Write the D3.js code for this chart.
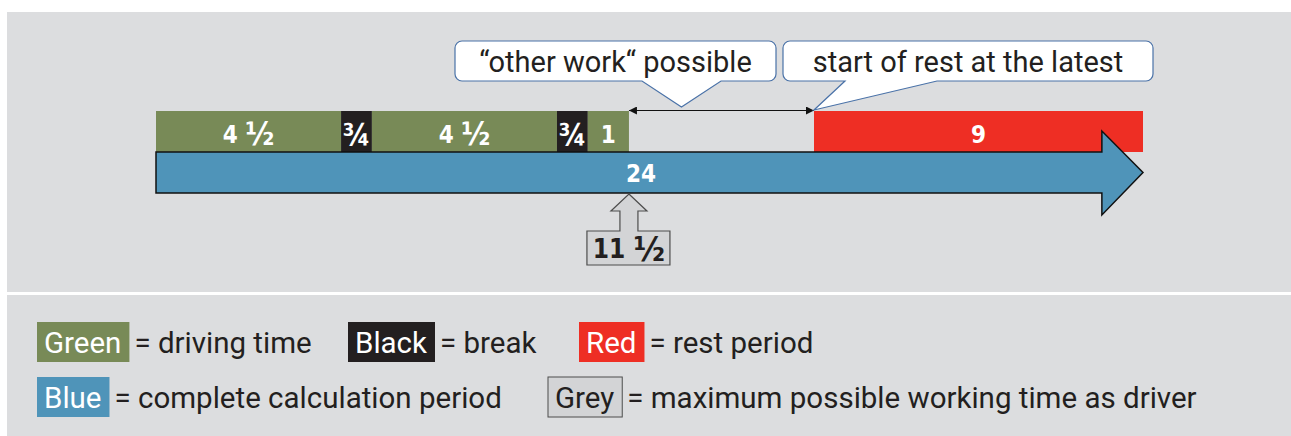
<!DOCTYPE html>
<html>
<head>
<meta charset="utf-8">
<script src="https://cdn.jsdelivr.net/npm/d3@7"></script>
<style>
  html, body { margin: 0; padding: 0; background: #ffffff; }
  svg { display: block; }
  text { font-family: Roboto, "DejaVu Sans", sans-serif; }
  text.num { font-family: "DejaVu Sans Condensed", "DejaVu Sans", sans-serif; font-weight: 700; }
</style>
</head>
<body>
<svg id="chart" width="1291" height="436"></svg>
<script>
// segments of the day, in hours (as drawn)
var segHours  = [4.5, 0.75, 4.5, 0.75, 1, 4.5, 8];
var segKinds  = ['drive', 'break', 'drive', 'break', 'drive', 'gap', 'rest'];
var segLabels = ['4 ½', '¾', '4 ½', '¾', '1', '', '9'];

var totalHours = 24;
var totalLabel = '24';
var maxWorkHours = 11.5;
var maxWorkLabel = '11 ½';
var restStartHours = 16;

var calloutTexts = ['“other work“ possible', 'start of rest at the latest'];

var legendRow1 = [
  {key: 'Green', kind: 'drive', desc: '= driving time'},
  {key: 'Black', kind: 'break', desc: '= break'},
  {key: 'Red',   kind: 'rest',  desc: '= rest period'}
];
var legendRow2 = [
  {key: 'Blue', kind: 'total', desc: '= complete calculation period'},
  {key: 'Grey', kind: 'grey',  desc: '= maximum possible working time as driver'}
];

var colors = {
  drive: '#788a57',
  break: '#231f20',
  rest: '#ee2e24',
  total: '#4f94b9',
  grey: '#d3d4d6',
  gap: 'none'
};
var ink = '#231f20';

var svg = d3.select('#chart');

// background panels
svg.append('rect').attr('x', 7).attr('y', 12).attr('width', 1284).attr('height', 280).attr('fill', '#dcdddf');
svg.append('rect').attr('x', 7).attr('y', 295).attr('width', 1284).attr('height', 141).attr('fill', '#dcdddf');

var x = d3.scaleLinear().domain([0, totalHours]).range([156, 1143]);

var barTop = 111, barBottom = 152;
var bodyTop = 152, bodyBottom = 193;

// writes a label, making vulgar fraction glyphs bigger (like the DIN font does)
function fracText(sel, str, size) {
  var parts = str.split(/([½¾¼])/).filter(function(p) { return p !== ''; });
  var shift = 0;
  parts.forEach(function(p) {
    var isFrac = /[½¾¼]/.test(p);
    var want = isFrac ? size * 0.1 : 0;
    sel.append('tspan')
      .attr('font-size', isFrac ? size * 1.3 : size)
      .attr('dy', want - shift)
      .text(p);
    shift = want;
  });
}

// stacked segments
var acc = 0;
var segs = segHours.map(function(h, i) {
  var s = {start: acc, end: acc + h, kind: segKinds[i], label: segLabels[i]};
  acc += h;
  return s;
});

var segG = svg.append('g');
segG.selectAll('rect')
  .data(segs.filter(function(d) { return d.kind !== 'gap'; }))
  .enter().append('rect')
  .attr('x', function(d) { return x(d.start); })
  .attr('y', barTop)
  .attr('width', function(d) { return x(d.end) - x(d.start); })
  .attr('height', barBottom - barTop)
  .attr('fill', function(d) { return colors[d.kind]; });

segG.selectAll('text')
  .data(segs.filter(function(d) { return d.label; }))
  .enter().append('text')
  .attr('class', 'num')
  .attr('x', function(d) { return (x(d.start) + x(d.end)) / 2; })
  .attr('y', 143)
  .attr('text-anchor', 'middle')
  .attr('fill', '#ffffff')
  .each(function(d) { fracText(d3.select(this), d.label, d.kind === 'break' ? 23 : 24); });

// big blue arrow (24h)
var headBase = x(totalHours - 1);
var tipX = x(totalHours), midY = (bodyTop + bodyBottom) / 2;
var arrowPts = [
  [x(0), bodyTop], [headBase, bodyTop], [headBase, 131], [tipX, midY],
  [headBase, 215], [headBase, bodyBottom], [x(0), bodyBottom]
];
svg.append('path')
  .attr('d', d3.line()(arrowPts) + 'Z')
  .attr('fill', colors.total)
  .attr('stroke', '#111')
  .attr('stroke-width', 1.5)
  .attr('stroke-linejoin', 'miter');

svg.append('text')
  .attr('class', 'num')
  .attr('x', x(maxWorkHours) + 12)
  .attr('y', midY + 1)
  .attr('dy', '0.36em')
  .attr('text-anchor', 'middle')
  .attr('fill', '#ffffff')
  .attr('font-size', 24)
  .text(totalLabel);

// double arrow for "other work"
var defs = svg.append('defs');
['start', 'end'].forEach(function(k) {
  defs.append('marker')
    .attr('id', 'arr-' + k)
    .attr('viewBox', '0 0 10 10')
    .attr('refX', 10).attr('refY', 5)
    .attr('markerWidth', 10).attr('markerHeight', 8)
    .attr('markerUnits', 'userSpaceOnUse')
    .attr('orient', k === 'start' ? 'auto-start-reverse' : 'auto')
    .append('path').attr('d', 'M0,0L10,5L0,10Z').attr('fill', '#111');
});
svg.append('line')
  .attr('x1', x(maxWorkHours)).attr('x2', x(restStartHours))
  .attr('y1', 110.5).attr('y2', 110.5)
  .attr('stroke', '#111').attr('stroke-width', 1)
  .attr('marker-start', 'url(#arr-start)')
  .attr('marker-end', 'url(#arr-end)');

// speech bubble callouts
function calloutPath(x0, y0, x1, y1, r, p0, p1, tx, ty) {
  var p = d3.path();
  p.moveTo(x0 + r, y0);
  p.lineTo(x1 - r, y0);
  p.arcTo(x1, y0, x1, y0 + r, r);
  p.lineTo(x1, y1 - r);
  p.arcTo(x1, y1, x1 - r, y1, r);
  p.lineTo(p1, y1);
  p.lineTo(tx, ty);
  p.lineTo(p0, y1);
  p.lineTo(x0 + r, y1);
  p.arcTo(x0, y1, x0, y1 - r, r);
  p.lineTo(x0, y0 + r);
  p.arcTo(x0, y0, x0 + r, y0, r);
  p.closePath();
  return p.toString();
}

var callouts = [
  {box: [455, 41, 776, 81], ptr: [642, 721], tip: [(x(maxWorkHours) + x(restStartHours)) / 2 - 40, 107], text: calloutTexts[0]},
  {box: [783, 41, 1153, 81], ptr: [845, 937], tip: [x(restStartHours), 110], text: calloutTexts[1]}
];
callouts.forEach(function(c) {
  svg.append('path')
    .attr('d', calloutPath(c.box[0], c.box[1], c.box[2], c.box[3], 7, c.ptr[0], c.ptr[1], c.tip[0], c.tip[1]))
    .attr('fill', '#ffffff')
    .attr('stroke', '#4a72a8')
    .attr('stroke-width', 1.2);
  svg.append('text')
    .attr('x', (c.box[0] + c.box[2]) / 2)
    .attr('y', 62)
    .attr('dy', '0.36em')
    .attr('text-anchor', 'middle')
    .attr('fill', ink)
    .attr('font-size', 29)
    .text(c.text);
});

// grey up arrow with 11 1/2 box
var gx = x(maxWorkHours);
var greyPts = [
  [gx, 194], [gx + 18, 211], [gx + 9, 211], [gx + 9, 231], [gx + 41, 231], [gx + 41, 265],
  [gx - 42, 265], [gx - 42, 231], [gx - 9, 231], [gx - 9, 211], [gx - 18, 211]
];
svg.append('path')
  .attr('d', d3.line()(greyPts) + 'Z')
  .attr('fill', colors.grey)
  .attr('stroke', '#4d4d4d')
  .attr('stroke-width', 1.2);
svg.append('text')
  .attr('class', 'num')
  .attr('x', gx)
  .attr('y', 258)
  .attr('text-anchor', 'middle')
  .attr('fill', ink)
  .call(fracText, maxWorkLabel, 26);

// legend
function drawLegendRow(items, starts, cy) {
  items.forEach(function(d, i) {
    var g = svg.append('g');
    var t = g.append('text')
      .attr('x', starts[i] + 7)
      .attr('y', cy)
      .attr('dy', '0.36em')
      .attr('font-size', 29.5)
      .attr('fill', d.kind === 'grey' ? ink : '#ffffff')
      .text(d.key);
    var w = t.node().getComputedTextLength();
    g.insert('rect', 'text')
      .attr('x', starts[i])
      .attr('y', cy - 20)
      .attr('width', w + 15)
      .attr('height', 40)
      .attr('fill', colors[d.kind])
      .attr('stroke', d.kind === 'grey' ? '#4d4d4d' : 'none')
      .attr('stroke-width', 1);
    g.append('text')
      .attr('x', starts[i] + w + 20)
      .attr('y', cy)
      .attr('dy', '0.36em')
      .attr('font-size', 29.5)
      .attr('fill', ink)
      .text(d.desc);
  });
}
drawLegendRow(legendRow1, [37, 348, 579], 342);
drawLegendRow(legendRow2, [37, 548], 397);
</script>
</body>
</html>
